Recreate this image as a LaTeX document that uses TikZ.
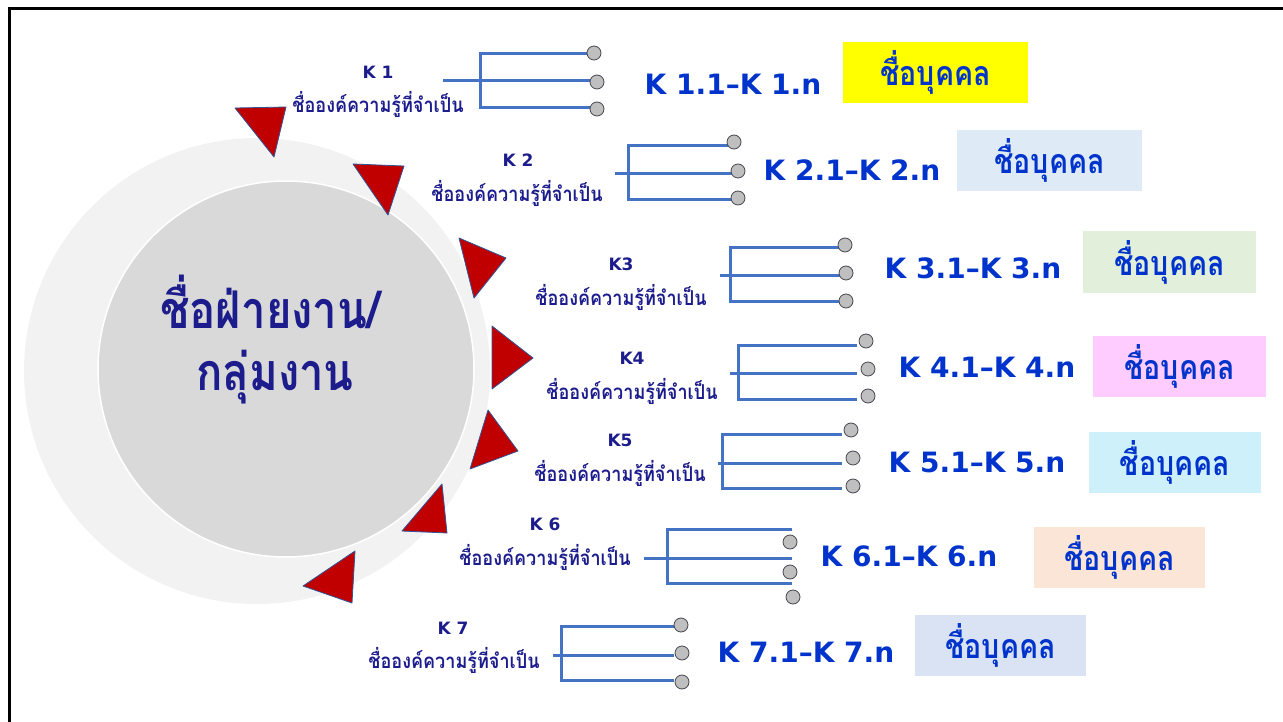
\documentclass[tikz,border=0pt]{standalone}
\usepackage{fontspec}
\setmainfont{DejaVu Sans}
\newfontfamily\thaifont[Script=Thai,FakeStretch=0.88]{Loma}
\newfontfamily\thaicond[Script=Thai,FakeStretch=0.84]{Loma}

\definecolor{navytext}{RGB}{28,28,140}
\definecolor{kblue}{RGB}{0,51,204}
\definecolor{branchblue}{RGB}{68,114,196}
\definecolor{ringgrey}{RGB}{242,242,242}
\definecolor{coregrey}{RGB}{217,217,217}
\definecolor{dotgrey}{RGB}{191,191,191}
\definecolor{dotedge}{RGB}{70,70,80}
\definecolor{pointred}{RGB}{192,0,0}
\definecolor{pointedge}{RGB}{47,85,151}
\definecolor{boxyellow}{RGB}{255,255,0}
\definecolor{boxblue}{RGB}{222,235,247}
\definecolor{boxgreen}{RGB}{226,239,218}
\definecolor{boxpink}{RGB}{255,204,255}
\definecolor{boxcyan}{RGB}{206,240,250}
\definecolor{boxpeach}{RGB}{251,229,214}
\definecolor{boxlavender}{RGB}{218,227,243}

\tikzset{
  kname/.style={font=\fontsize{17}{17}\selectfont\bfseries, text=navytext},
  kneed/.style={font=\thaifont\fontsize{20.5}{20.5}\selectfont\bfseries, text=navytext},
  krange/.style={font=\fontsize{28}{28}\selectfont\bfseries, text=kblue},
  person/.style={minimum height=61, inner sep=0, font=\thaicond\fontsize{34}{34}\selectfont\bfseries, text=kblue},
  deptname/.style={anchor=base, font=\thaicond\fontsize{52}{52}\selectfont\bfseries, text=navytext},
  branch/.style={draw=branchblue, line width=3pt, line join=miter},
  tipdot/.style={circle, draw=dotedge, fill=dotgrey, line width=0.8pt, minimum size=14, inner sep=0},
  pointer/.style={fill=pointred, draw=pointedge, line width=0.8pt, line join=round},
}

\begin{document}
\begin{tikzpicture}[x=1pt,y=-1pt]
    \useasboundingbox (0,0) rectangle (1283,722);
    % frame
    \draw[line width=3pt] (9,722) -- (9,9) -- (1283,9);

    % department circle
    \fill[ringgrey] (257,371) circle (233);
    \filldraw[fill=coregrey, draw=white, line width=1.5pt] (286,369) circle (188);
    \node[deptname] (dept) at (270,328) {ชื่อฝ่ายงาน/};
    \node[deptname] (deptb) at (275,390) {กลุ่มงาน};

    % red pointers round the circle
    \filldraw[pointer] (235,108) -- (286,107) -- (274,157) -- cycle;
    \filldraw[pointer] (353,164) -- (404,166) -- (388,215) -- cycle;
    \filldraw[pointer] (459,238) -- (506,258) -- (474,298) -- cycle;
    \filldraw[pointer] (492,326) -- (533,358) -- (492,389) -- cycle;
    \filldraw[pointer] (488,410) -- (518,451) -- (470,469) -- cycle;
    \filldraw[pointer] (442,484) -- (447,533) -- (402,531) -- cycle;
    \filldraw[pointer] (355,551) -- (352,603) -- (303,586) -- cycle;

    % knowledge names
    \node[kname] (k1) at (378,72) {K 1};
    \node[kneed] (n1) at (378,104) {ชื่อองค์ความรู้ที่จำเป็น};
    \node[kname] (k2) at (518,160) {K 2};
    \node[kneed] (n2) at (517,193) {ชื่อองค์ความรู้ที่จำเป็น};
    \node[kname] (k3) at (621,264) {K3};
    \node[kneed] (n3) at (621,297) {ชื่อองค์ความรู้ที่จำเป็น};
    \node[kname] (k4) at (632,358) {K4};
    \node[kneed] (n4) at (632,391) {ชื่อองค์ความรู้ที่จำเป็น};
    \node[kname] (k5) at (620,440) {K5};
    \node[kneed] (n5) at (620,473) {ชื่อองค์ความรู้ที่จำเป็น};
    \node[kname] (k6) at (545,524) {K 6};
    \node[kneed] (n6) at (545,557) {ชื่อองค์ความรู้ที่จำเป็น};
    \node[kname] (k7) at (453,628) {K 7};
    \node[kneed] (n7) at (454,660) {ชื่อองค์ความรู้ที่จำเป็น};

    % branches
    \foreach \i/\sx/\vx/\yt/\ym/\yb/\ex in {1/443/480/54/81/108/590, 2/615/628/146/174/200/733,
        3/720/730/248/276/301/842, 4/730/738/345/373/399/857, 5/718/722/434/463/488/842,
        6/644/667/529/558/583/792, 7/553/561/626/655/680/674} {
        \coordinate (s\i) at (\sx,\ym);
        \coordinate (t\i) at (\vx,\yt);
        \coordinate (b\i) at (\vx,\yb);
        \coordinate (e\i a) at (\ex,\yt);
        \coordinate (e\i b) at (\ex,\ym);
        \coordinate (e\i c) at (\ex,\yb);
        \draw[branch] (s\i) -- (e\i b);
        \draw[branch] (e\i a) -- (t\i) -- (b\i) -- (e\i c);
    }
    \foreach \n/\x/\y in {1a/594/53, 1b/597/82, 1c/597/109, 2a/734/142, 2b/738/171, 2c/738/198,
        3a/845/245, 3b/846/273, 3c/846/301, 4a/866/341, 4b/868/369, 4c/868/396,
        5a/851/430, 5b/853/458, 5c/853/486, 6a/790/542, 6b/790/572, 6c/793/597,
        7a/681/625, 7b/682/653, 7c/682/682}
        \node[tipdot] (d\n) at (\x,\y) {};

    % ranges
    \node[krange] (r1) at (733,84) {K 1.1–K 1.n};
    \node[krange] (r2) at (852,170) {K 2.1–K 2.n};
    \node[krange] (r3) at (973,268) {K 3.1–K 3.n};
    \node[krange] (r4) at (987,367) {K 4.1–K 4.n};
    \node[krange] (r5) at (977,462) {K 5.1–K 5.n};
    \node[krange] (r6) at (909,556) {K 6.1–K 6.n};
    \node[krange] (r7) at (806,652) {K 7.1–K 7.n};

    % persons
    \node[person, fill=boxyellow, minimum width=185] (p1) at (935.5,72.5) {ชื่อบุคคล};
    \node[person, fill=boxblue, minimum width=185] (p2) at (1049.5,160.5) {ชื่อบุคคล};
    \node[person, fill=boxgreen, minimum width=173] (p3) at (1169.5,262) {ชื่อบุคคล};
    \node[person, fill=boxpink, minimum width=173] (p4) at (1179.5,366.5) {ชื่อบุคคล};
    \node[person, fill=boxcyan, minimum width=172] (p5) at (1175,462.5) {ชื่อบุคคล};
    \node[person, fill=boxpeach, minimum width=171] (p6) at (1119.5,557) {ชื่อบุคคล};
    \node[person, fill=boxlavender, minimum width=171] (p7) at (1000.5,645) {ชื่อบุคคล};
\end{tikzpicture}
\end{document}
